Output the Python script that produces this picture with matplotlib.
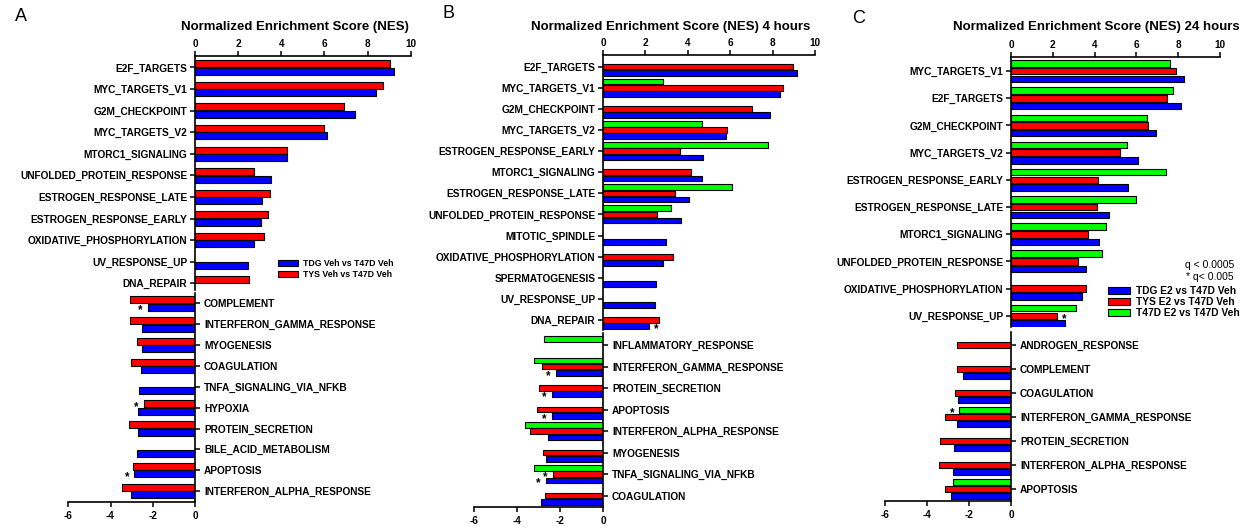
import numpy as np
import matplotlib
matplotlib.use('Agg')
import matplotlib.pyplot as plt
from matplotlib.patches import Patch

nan = np.nan
plt.rcParams['font.family'] = 'Liberation Sans'
plt.rcParams['axes.unicode_minus'] = False

BLUE, RED, GREEN = '#0000ff', '#ff0000', '#00ff00'

# ---- panel A: TDG / TYS Veh vs T47D Veh ----
A_up_cats = ['E2F_TARGETS', 'MYC_TARGETS_V1', 'G2M_CHECKPOINT', 'MYC_TARGETS_V2',
             'MTORC1_SIGNALING', 'UNFOLDED_PROTEIN_RESPONSE', 'ESTROGEN_RESPONSE_LATE',
             'ESTROGEN_RESPONSE_EARLY', 'OXIDATIVE_PHOSPHORYLATION', 'UV_RESPONSE_UP', 'DNA_REPAIR']
A_up_tys = [9.06, 8.72, 6.91, 6.00, 4.28, 2.74, 3.46, 3.40, 3.21, nan, 2.49]
A_up_tdg = [9.23, 8.38, 7.43, 6.14, 4.28, 3.51, 3.11, 3.06, 2.74, 2.47, nan]
A_dn_cats = ['COMPLEMENT', 'INTERFERON_GAMMA_RESPONSE', 'MYOGENESIS', 'COAGULATION',
             'TNFA_SIGNALING_VIA_NFKB', 'HYPOXIA', 'PROTEIN_SECRETION', 'BILE_ACID_METABOLISM',
             'APOPTOSIS', 'INTERFERON_ALPHA_RESPONSE']
A_dn_tys = [-3.06, -3.06, -2.74, -3.01, nan, -2.42, -3.14, nan, -2.93, -3.47]
A_dn_tdg = [-2.23, -2.52, -2.52, -2.55, -2.66, -2.69, -2.72, -2.77, -2.87, -3.01]
A_stars = [('COMPLEMENT', 1), ('HYPOXIA', 0), ('APOPTOSIS', 1)]

# ---- panel B: 4 hours ----
B_up_cats = ['E2F_TARGETS', 'MYC_TARGETS_V1', 'G2M_CHECKPOINT', 'MYC_TARGETS_V2',
             'ESTROGEN_RESPONSE_EARLY', 'MTORC1_SIGNALING', 'ESTROGEN_RESPONSE_LATE',
             'UNFOLDED_PROTEIN_RESPONSE', 'MITOTIC_SPINDLE', 'OXIDATIVE_PHOSPHORYLATION',
             'SPERMATOGENESIS', 'UV_RESPONSE_UP', 'DNA_REPAIR']
B_up_t47 = [nan, 2.85, nan, 4.65, 7.78, nan, 6.07, 3.19, nan, nan, nan, nan, nan]
B_up_tys = [8.98, 8.47, 7.04, 5.83, 3.63, 4.15, 3.40, 2.53, nan, 3.29, nan, nan, 2.64]
B_up_tdg = [9.17, 8.35, 7.88, 5.80, 4.70, 4.67, 4.06, 3.66, 2.96, 2.81, 2.50, 2.47, 2.17]
B_dn_cats = ['INFLAMMATORY_RESPONSE', 'INTERFERON_GAMMA_RESPONSE', 'PROTEIN_SECRETION',
             'APOPTOSIS', 'INTERFERON_ALPHA_RESPONSE', 'MYOGENESIS',
             'TNFA_SIGNALING_VIA_NFKB', 'COAGULATION']
B_dn_t47 = [-2.76, -3.22, nan, nan, -3.63, nan, -3.22, nan]
B_dn_tys = [nan, -2.84, -2.98, -3.07, -3.41, -2.79, -2.33, -2.71]
B_dn_tdg = [nan, -2.17, -2.36, -2.39, -2.56, -2.64, -2.67, -2.88]
B_up_stars = [('DNA_REPAIR', 2)]
B_dn_stars = [('INTERFERON_GAMMA_RESPONSE', 2), ('PROTEIN_SECRETION', 2), ('APOPTOSIS', 2),
              ('TNFA_SIGNALING_VIA_NFKB', 1), ('TNFA_SIGNALING_VIA_NFKB', 2)]

# ---- panel C: 24 hours ----
C_up_cats = ['MYC_TARGETS_V1', 'E2F_TARGETS', 'G2M_CHECKPOINT', 'MYC_TARGETS_V2',
             'ESTROGEN_RESPONSE_EARLY', 'ESTROGEN_RESPONSE_LATE', 'MTORC1_SIGNALING',
             'UNFOLDED_PROTEIN_RESPONSE', 'OXIDATIVE_PHOSPHORYLATION', 'UV_RESPONSE_UP']
C_up_t47 = [7.61, 7.77, 6.49, 5.57, 7.40, 5.98, 4.55, 4.37, nan, 3.11]
C_up_tys = [7.88, 7.48, 6.57, 5.22, 4.18, 4.10, 3.70, 3.22, 3.59, 2.19]
C_up_tdg = [8.28, 8.12, 6.92, 6.09, 5.58, 4.69, 4.23, 3.57, 3.38, 2.58]
C_dn_cats = ['ANDROGEN_RESPONSE', 'COMPLEMENT', 'COAGULATION', 'INTERFERON_GAMMA_RESPONSE',
             'PROTEIN_SECRETION', 'INTERFERON_ALPHA_RESPONSE', 'APOPTOSIS']
C_dn_t47 = [nan, nan, nan, -2.46, nan, nan, -2.78]
C_dn_tys = [-2.59, -2.56, -2.67, -3.14, -3.38, -3.44, -3.14]
C_dn_tdg = [nan, -2.30, -2.51, -2.59, -2.70, -2.75, -2.87]
C_up_stars = [('UV_RESPONSE_UP', 1)]
C_dn_stars = [('INTERFERON_GAMMA_RESPONSE', 0)]

W, H = 1250, 529
fig = plt.figure(figsize=(W / 100, H / 100), dpi=100)


def box(x0, y0, x1, y1):
    return [x0 / W, 1 - y1 / H, (x1 - x0) / W, (y1 - y0) / H]


def half(xpix, ypix, ylim, cats, series, colors, up, slot_px, h_px, stars=()):
    ax = fig.add_axes(box(xpix[0], ypix[0], xpix[1], ypix[1]))
    ax.patch.set_alpha(0)
    ppu = (ypix[1] - ypix[0]) / (ylim[0] - ylim[1])
    slot, hgt = slot_px / ppu, h_px / ppu
    y = np.arange(len(cats))
    k = len(series)
    offs = [(j - (k - 1) / 2) * slot for j in range(k)]
    for vals, c, o in zip(series, colors, offs):
        ax.barh(y + o, vals, height=hgt, color=c, edgecolor='black', linewidth=0.8)
    for name, j in stars:
        i = cats.index(name)
        v = series[j][i]
        ax.annotate('*', (v + (0.36 if v > 0 else -0.36), i + offs[j]), xytext=(0, -4.3),
                    textcoords='offset points', ha='center', va='baseline',
                    fontsize=8.5, fontweight='bold')
    ax.set_ylim(*ylim)
    ax.set_yticks(y, cats)
    if up:
        ax.set_xlim(0, 10)
        ax.set_xticks([0, 2, 4, 6, 8, 10])
        ax.xaxis.tick_top()
        ax.spines[['right', 'bottom']].set_visible(False)
        ax.tick_params(axis='x', length=3.5, width=1.1, pad=1.5, labelsize=7.2)
        ax.tick_params(axis='y', length=3.5, width=1.1, pad=2, labelsize=7.3)
    else:
        ax.set_xlim(-6, 0)
        ax.set_xticks([-6, -4, -2, 0])
        ax.yaxis.tick_right()
        ax.spines[['left', 'top']].set_visible(False)
        ax.tick_params(axis='x', length=3.5, width=1.1, pad=3, labelsize=7.2)
        ax.tick_params(axis='y', length=3.5, width=1.1, pad=3, labelsize=7.3)
    for s in ax.spines.values():
        s.set_linewidth(1.2)
    for t in ax.get_xticklabels() + ax.get_yticklabels():
        t.set_fontweight('bold')
    return ax


# panel A
half((195, 410.7), (56, 290), (10.31, -0.53), A_up_cats, [A_up_tys, A_up_tdg], [RED, BLUE], True, 7.5, 7)
half((68.3, 195), (293, 502.3), (9.54, -0.5), A_dn_cats, [A_dn_tys, A_dn_tdg], [RED, BLUE], False, 7.5, 7, A_stars)
# panel B
half((603, 815), (55, 330), (12.47, -0.55), B_up_cats, [B_up_t47, B_up_tys, B_up_tdg],
     [GREEN, RED, BLUE], True, 6.2, 5.6, B_up_stars)
half((474, 603), (333, 507.3), (7.54, -0.56), B_dn_cats, [B_dn_t47, B_dn_tys, B_dn_tdg],
     [GREEN, RED, BLUE], False, 6.2, 5.6, B_dn_stars)
# panel C
half((1011, 1220), (56.7, 326.7), (9.4, -0.53), C_up_cats, [C_up_t47, C_up_tys, C_up_tdg],
     [GREEN, RED, BLUE], True, 7.7, 6.5, C_up_stars)
half((885, 1011), (331.7, 500.7), (6.475, -0.57), C_dn_cats, [C_dn_t47, C_dn_tys, C_dn_tdg],
     [GREEN, RED, BLUE], False, 7.0, 6.0, C_dn_stars)

# titles and panel letters
fig.text(295 / W, 1 - 27 / H, 'Normalized Enrichment Score (NES)', ha='center', va='center',
         fontsize=9.5, fontweight='bold')
fig.text(671 / W, 1 - 27 / H, 'Normalized Enrichment Score (NES) 4 hours', ha='center', va='center',
         fontsize=9.5, fontweight='bold')
fig.text(1096 / W, 1 - 27 / H, 'Normalized Enrichment Score (NES) 24 hours', ha='center', va='center',
         fontsize=9.5, fontweight='bold')
for letter, (lx, ly) in zip('ABC', [(20.5, 16.5), (448, 13.5), (859, 18.5)]):
    fig.text(lx / W, 1 - ly / H, letter, ha='center', va='center', fontsize=13)

# legends
hA = [Patch(facecolor=BLUE, edgecolor='black', linewidth=0.8, label='TDG Veh vs T47D Veh'),
      Patch(facecolor=RED, edgecolor='black', linewidth=0.8, label='TYS Veh vs T47D Veh')]
fig.legend(handles=hA, loc='upper left', bbox_to_anchor=(278 / W, 1 - 259 / H), frameon=False,
           prop={'size': 6.3, 'weight': 'bold'}, handlelength=2.3, handleheight=0.7,
           handletextpad=0.55, labelspacing=0.25, borderpad=0, borderaxespad=0)
hC = [Patch(facecolor=BLUE, edgecolor='black', linewidth=0.8, label='TDG E2 vs T47D Veh'),
      Patch(facecolor=RED, edgecolor='black', linewidth=0.8, label='TYS E2 vs T47D Veh'),
      Patch(facecolor=GREEN, edgecolor='black', linewidth=0.8, label='T47D E2 vs T47D Veh')]
fig.legend(handles=hC, loc='upper left', bbox_to_anchor=(1108 / W, 1 - 286 / H), frameon=False,
           prop={'size': 7.4, 'weight': 'bold'}, handlelength=2.15, handleheight=0.68,
           handletextpad=0.6, labelspacing=0.1, borderpad=0, borderaxespad=0)
fig.text(1234 / W, 1 - 265 / H, 'q < 0.0005', ha='right', va='center', fontsize=7.5)
fig.text(1234 / W, 1 - 277 / H, '* q< 0.005', ha='right', va='center', fontsize=7.5)

fig.savefig('out.png', dpi=100)
